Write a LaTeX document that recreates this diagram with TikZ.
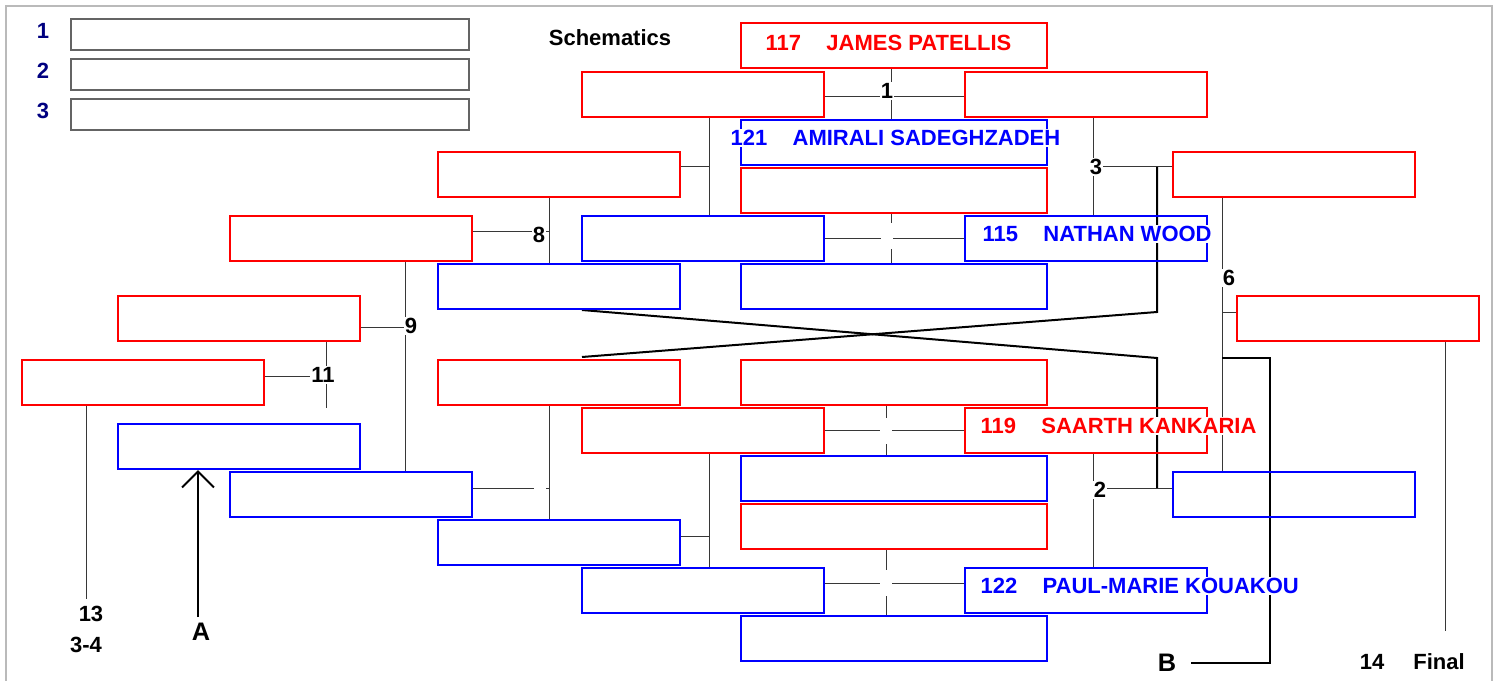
\documentclass[tikz,border=0pt]{standalone}
\usepackage{fontspec}
\setmainfont{Liberation Sans}
\usepackage{tikz}
\usetikzlibrary{shapes,arrows,arrows.meta,backgrounds}

\definecolor{navy}{RGB}{0,0,128}
\definecolor{framegray}{RGB}{186,186,186}
\definecolor{boxgray}{RGB}{100,100,100}
\definecolor{wiregray}{RGB}{55,55,55}

\tikzset{
    slot/.style={draw, line width=1.5pt, minimum width=181.5pt, minimum height=33.75pt, inner sep=0pt},
    redslot/.style={slot, draw=red},
    blueslot/.style={slot, draw=blue},
    wideredslot/.style={redslot, minimum width=229.5pt},
    wideblueslot/.style={blueslot, minimum width=229.5pt},
    legendbox/.style={draw=boxgray, line width=1.5pt, minimum width=298.5pt, minimum height=23.25pt, inner sep=0pt},
    player/.style={fill=white, inner sep=1pt, anchor=west},
    tag/.style={fill=white, inner sep=1pt},
    blank/.style={fill=white, minimum width=9pt, minimum height=19.5pt, inner sep=0pt},
    bigtag/.style={font=\fontsize{19}{22}\selectfont\bfseries},
    wire/.style={draw=wiregray, line width=0.75pt},
    heavy/.style={draw=black, line width=1.5pt}
}

\begin{document}
\begin{tikzpicture}[x=0.75pt,y=-0.75pt,font=\fontsize{16.5}{20}\selectfont\bfseries]
    \useasboundingbox (0,0) rectangle (1499,681);
    \draw [framegray,line width=1.5pt] (6,720) -- (6,6) -- (1492,6) -- (1492,720);

    % Legend
    \foreach \i in {1,2,3} {
        \node [text=navy] (rank\i) at (43,{31+40*(\i-1)}) {\i};
        \node [legendbox] (place\i) at (270,{34.5+40*(\i-1)}) {};
    }
    \node (title) at (610,38) {Schematics};

    % Red slots
    \node [wideredslot] (rTop) at (894,46) {};
    \node [redslot] (rA) at (703,94.5) {};
    \node [redslot] (rB) at (1086,94.5) {};
    \node [wideredslot] (rC) at (894,190.5) {};
    \node [redslot] (rD) at (559,174.5) {};
    \node [redslot] (rE) at (1294,174.5) {};
    \node [redslot] (rF) at (351,238.5) {};
    \node [redslot] (rG) at (239,318.5) {};
    \node [redslot] (rH) at (1358,318.5) {};
    \node [redslot] (rI) at (143,382.5) {};
    \node [redslot] (rJ) at (559,382.5) {};
    \node [wideredslot] (rK) at (894,382.5) {};
    \node [redslot] (rL) at (703,430.5) {};
    \node [redslot] (rM) at (1086,430.5) {};
    \node [wideredslot] (rN) at (894,526.5) {};

    % Blue slots
    \node [wideblueslot] (bA) at (894,142.5) {};
    \node [blueslot] (bB) at (703,238.5) {};
    \node [blueslot] (bC) at (1086,238.5) {};
    \node [blueslot] (bD) at (559,286.5) {};
    \node [wideblueslot] (bE) at (894,286.5) {};
    \node [blueslot] (bF) at (239,446.5) {};
    \node [wideblueslot] (bG) at (894,478.5) {};
    \node [blueslot] (bH) at (351,494.5) {};
    \node [blueslot] (bI) at (1294,494.5) {};
    \node [blueslot] (bJ) at (559,542.5) {};
    \node [blueslot] (bK) at (703,590.5) {};
    \node [blueslot] (bL) at (1086,590.5) {};
    \node [wideblueslot] (bM) at (894,638.5) {};

    % Players
    \node [player,text=red] (n117) at (764,43) {117\hspace{19pt}JAMES PATELLIS};
    \node [player,text=blue] (n121) at (729,138) {121\hspace{19pt}AMIRALI SADEGHZADEH};
    \node [player,text=blue] (n115) at (981,234) {115\hspace{19pt}NATHAN WOOD};
    \node [player,text=red] (n119) at (979,426) {119\hspace{19pt}SAARTH KANKARIA};
    \node [player,text=blue] (n122) at (979,586) {122\hspace{19pt}PAUL-MARIE KOUAKOU};

    % Match numbers
    \node [tag] (m1) at (887,91) {1};
    \node [tag] (m2) at (1100,490) {2};
    \node [tag] (m3) at (1096,167) {3};
    \node [tag] (m6) at (1229,278) {6};
    \node [tag] (m8) at (539,235) {8};
    \node [tag] (m9) at (411,326) {9};
    \node [tag] (m11) at (323,375) {11};
    \node [tag] (m13) at (91,614) {13};
    \node (m34) at (86,645) {3-4};
    \node (m14) at (1372,662) {14};
    \node (mFinal) at (1439,662) {Final};
    \node [bigtag] (mA) at (201,632) {A};
    \node [bigtag,inner xsep=11pt] (mB) at (1167,663) {B};
    \node [blank] (u1) at (887,236) {};
    \node [blank] (u2) at (886,431) {};
    \node [blank] (u3) at (886,583) {};
    \node [blank] (u4) at (540,488) {};

    \begin{scope}[on background layer]
    % Crosses in the middle column
    \coordinate (j1) at (891,97);
    \draw [wire] (rA.east |- j1) -- (rB.west |- j1);
    \draw [wire] (rTop.south -| j1) -- (bA.north -| j1);
    \coordinate (ju1) at (891,238);
    \draw [wire] (bB.east |- ju1) -- (bC.west |- ju1);
    \draw [wire] (rC.south -| ju1) -- (bE.north -| ju1);
    \coordinate (ju2) at (886,430);
    \draw [wire] (rL.east |- ju2) -- (rM.west |- ju2);
    \draw [wire] (rK.south -| ju2) -- (bG.north -| ju2);
    \coordinate (ju3) at (886,583);
    \draw [wire] (bK.east |- ju3) -- (bL.west |- ju3);
    \draw [wire] (rN.south -| ju3) -- (bM.north -| ju3);

    % Right side
    \coordinate (j3) at (1093,167);
    \draw [wire] (rB.south -| j3) -- (bC.north -| j3);
    \draw [wire] (j3) -- (rE.west |- j3);
    \coordinate (j2) at (1093,488);
    \draw [wire] (rM.south -| j2) -- (bL.north -| j2);
    \draw [wire] (j2) -- (bI.west |- j2);
    \coordinate (j6) at (1222,312);
    \draw [wire] (rE.south -| j6) -- (bI.north -| j6);
    \draw [wire] (j6) -- (rH.west |- j6);
    \coordinate (e14) at (1445,631);
    \draw [wire] (rH.south -| e14) -- (e14);

    % Left side
    \coordinate (j4) at (709,167);
    \draw [wire] (rA.south -| j4) -- (bB.north -| j4);
    \draw [wire] (rD.east |- j4) -- (j4);
    \coordinate (j8) at (549,231);
    \draw [wire] (rD.south -| j8) -- (bD.north -| j8);
    \draw [wire] (rF.east |- j8) -- (j8);
    \coordinate (j5) at (549,488);
    \draw [wire] (rJ.south -| j5) -- (bJ.north -| j5);
    \draw [wire] (bH.east |- j5) -- (j5);
    \coordinate (j7) at (709,536);
    \draw [wire] (rL.south -| j7) -- (bK.north -| j7);
    \draw [wire] (bJ.east |- j7) -- (j7);
    \coordinate (j9) at (405,327);
    \draw [wire] (rF.south -| j9) -- (bH.north -| j9);
    \draw [wire] (rG.east |- j9) -- (j9);
    \coordinate (j11) at (326,376);
    \coordinate (e11) at (326,408);
    \draw [wire] (rG.south -| j11) -- (e11);
    \draw [wire] (rI.east |- j11) -- (j11);
    \coordinate (e13) at (86,599);
    \draw [wire] (e13 |- rI.south) -- (e13);

    % Losers crossing over
    \coordinate (k3) at (1157,167);
    \coordinate (k2) at (1157,488);
    \coordinate (t1) at (1157,312);
    \coordinate (t2) at (582,357);
    \coordinate (t3) at (582,310);
    \coordinate (t4) at (1157,358);
    \draw [heavy] (k3) -- (t1) -- (t2);
    \draw [heavy] (t3) -- (t4) -- (k2);
    \coordinate (k6) at (1222,358);
    \coordinate (bturn) at (1270,358);
    \draw [heavy] (k6) -- (bturn) -- (bturn |- mB) -- (mB.east);
    \coordinate (a1) at (198,617);
    \draw [heavy,-{Straight Barb[length=12pt,width=24pt]}] (a1) -- (a1 |- bF.south);
    \end{scope}
\end{tikzpicture}
\end{document}
